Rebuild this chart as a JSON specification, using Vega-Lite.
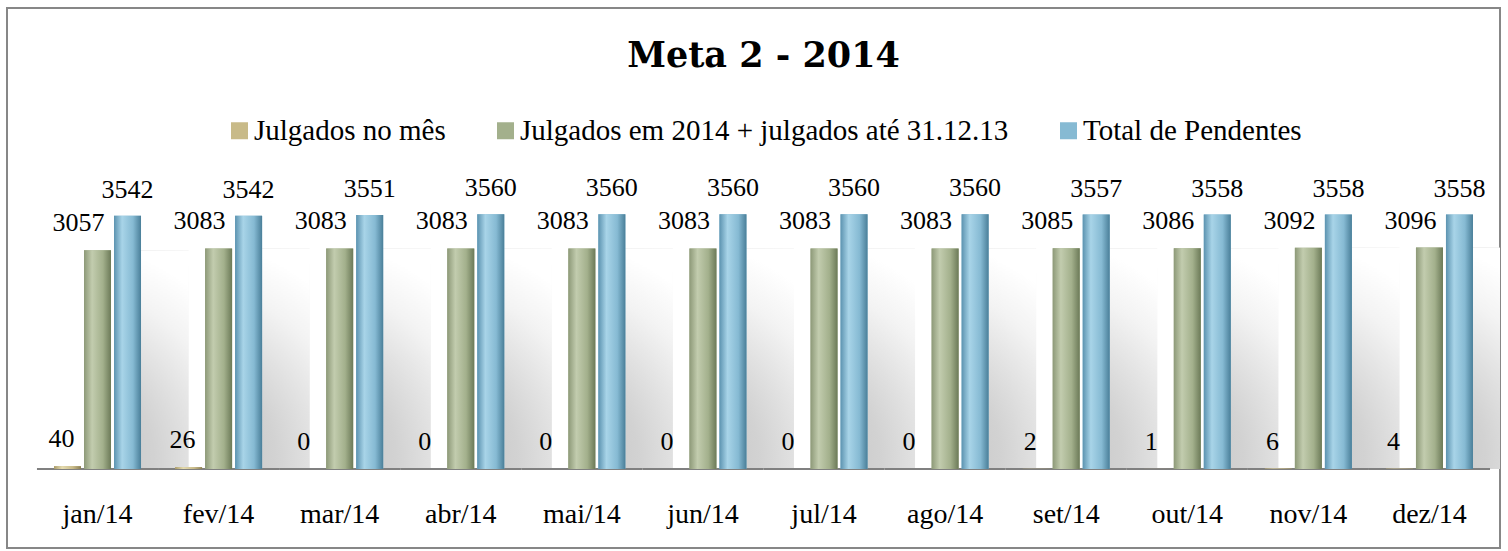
{
  "$schema": "https://vega.github.io/schema/vega-lite/v6.json",
  "width": 1493,
  "height": 540,
  "autosize": {"type": "none"},
  "padding": {"left": 7, "top": 8, "right": 8, "bottom": 3},
  "background": "white",
  "config": {"view": {"stroke": "#878787", "strokeWidth": 2}, "font": "Liberation Serif"},
  "title": {"text": "Meta 2 - 2014", "font": "DejaVu Serif", "fontSize": 35, "fontWeight": "bold", "color": "black", "anchor": "middle", "frame": "group", "baseline": "alphabetic", "offset": -94, "dx": 10},
  "data": {"values": [
    {"mes": "jan/14", "serie": "Julgados no mês", "valor": 40},
    {"mes": "fev/14", "serie": "Julgados no mês", "valor": 26},
    {"mes": "mar/14", "serie": "Julgados no mês", "valor": 0},
    {"mes": "abr/14", "serie": "Julgados no mês", "valor": 0},
    {"mes": "mai/14", "serie": "Julgados no mês", "valor": 0},
    {"mes": "jun/14", "serie": "Julgados no mês", "valor": 0},
    {"mes": "jul/14", "serie": "Julgados no mês", "valor": 0},
    {"mes": "ago/14", "serie": "Julgados no mês", "valor": 0},
    {"mes": "set/14", "serie": "Julgados no mês", "valor": 2},
    {"mes": "out/14", "serie": "Julgados no mês", "valor": 1},
    {"mes": "nov/14", "serie": "Julgados no mês", "valor": 6},
    {"mes": "dez/14", "serie": "Julgados no mês", "valor": 4},
    {"mes": "jan/14", "serie": "Julgados em 2014 + julgados até 31.12.13", "valor": 3057},
    {"mes": "fev/14", "serie": "Julgados em 2014 + julgados até 31.12.13", "valor": 3083},
    {"mes": "mar/14", "serie": "Julgados em 2014 + julgados até 31.12.13", "valor": 3083},
    {"mes": "abr/14", "serie": "Julgados em 2014 + julgados até 31.12.13", "valor": 3083},
    {"mes": "mai/14", "serie": "Julgados em 2014 + julgados até 31.12.13", "valor": 3083},
    {"mes": "jun/14", "serie": "Julgados em 2014 + julgados até 31.12.13", "valor": 3083},
    {"mes": "jul/14", "serie": "Julgados em 2014 + julgados até 31.12.13", "valor": 3083},
    {"mes": "ago/14", "serie": "Julgados em 2014 + julgados até 31.12.13", "valor": 3083},
    {"mes": "set/14", "serie": "Julgados em 2014 + julgados até 31.12.13", "valor": 3085},
    {"mes": "out/14", "serie": "Julgados em 2014 + julgados até 31.12.13", "valor": 3086},
    {"mes": "nov/14", "serie": "Julgados em 2014 + julgados até 31.12.13", "valor": 3092},
    {"mes": "dez/14", "serie": "Julgados em 2014 + julgados até 31.12.13", "valor": 3096},
    {"mes": "jan/14", "serie": "Total de Pendentes", "valor": 3542},
    {"mes": "fev/14", "serie": "Total de Pendentes", "valor": 3542},
    {"mes": "mar/14", "serie": "Total de Pendentes", "valor": 3551},
    {"mes": "abr/14", "serie": "Total de Pendentes", "valor": 3560},
    {"mes": "mai/14", "serie": "Total de Pendentes", "valor": 3560},
    {"mes": "jun/14", "serie": "Total de Pendentes", "valor": 3560},
    {"mes": "jul/14", "serie": "Total de Pendentes", "valor": 3560},
    {"mes": "ago/14", "serie": "Total de Pendentes", "valor": 3560},
    {"mes": "set/14", "serie": "Total de Pendentes", "valor": 3557},
    {"mes": "out/14", "serie": "Total de Pendentes", "valor": 3558},
    {"mes": "nov/14", "serie": "Total de Pendentes", "valor": 3558},
    {"mes": "dez/14", "serie": "Total de Pendentes", "valor": 3558}
  ]},
  "encoding": {
    "x": {
      "field": "mes", "type": "nominal",
      "sort": ["jan/14", "fev/14", "mar/14", "abr/14", "mai/14", "jun/14", "jul/14", "ago/14", "set/14", "out/14", "nov/14", "dez/14"],
      "scale": {"paddingInner": 0, "paddingOuter": 0.165, "align": 0.75},
      "axis": {"title": null, "domain": false, "ticks": false, "grid": false, "labelAngle": 0, "labelFont": "Liberation Serif", "labelFontSize": 28, "labelColor": "black", "labelPadding": -26, "labelBaseline": "alphabetic"}
    },
    "y": {"field": "valor", "type": "quantitative", "scale": {"domain": [-1104, 6445], "nice": false, "zero": false}, "axis": null}
  },
  "layer": [
    {
      "transform": [{"filter": "datum.serie === 'Julgados em 2014 + julgados até 31.12.13'"}],
      "mark": {"type": "bar", "width": 48, "xOffset": 67, "clip": true,
        "fill": {"gradient": "radial", "x1": 0, "y1": 0.95, "r1": 0, "x2": 0, "y2": 0.95, "r2": 1,
          "stops": [{"offset": 0, "color": "#bcbcbc"}, {"offset": 0.45, "color": "#d2d2d2"}, {"offset": 0.8, "color": "#f3f3f3"}, {"offset": 1, "color": "#ffffff"}]}},
      "encoding": {}
    },
    {
      "transform": [{"filter": "datum.serie === 'Total de Pendentes'"}],
      "mark": {"type": "rect", "stroke": "#808080", "strokeWidth": 2, "fillOpacity": 0},
      "encoding": {"y": {"datum": 0}, "y2": {"datum": 0}}
    },
    {
      "mark": {"type": "bar"},
      "encoding": {
        "xOffset": {"field": "serie", "type": "nominal", "scale": {"domain": ["Julgados no mês", "Julgados em 2014 + julgados até 31.12.13", "Total de Pendentes"], "paddingInner": 0.1, "paddingOuter": 0.568}},
        "color": {"field": "serie", "type": "nominal",
          "scale": {"domain": ["Julgados no mês", "Julgados em 2014 + julgados até 31.12.13", "Total de Pendentes"],
            "range": ["#c8ba88", "#a3b08c", "#86bad3"]},
          "legend": {"title": null, "orient": "none", "legendX": 218, "legendY": 108, "direction": "horizontal", "columns": 3, "symbolType": "square", "symbolSize": 289, "symbolStrokeWidth": 0, "labelFont": "Liberation Serif", "labelFontSize": 29, "labelColor": "black", "columnPadding": 45, "labelOffset": 0, "labelLimit": 0}
        }
      }
    },
    {
      "transform": [{"filter": "datum.serie === 'Julgados no mês'"}],
      "mark": {"type": "bar", "fill": {"gradient": "linear", "x1": 0, "y1": 0, "x2": 1, "y2": 0, "stops": [{"offset": 0, "color": "#a89a68"}, {"offset": 0.3, "color": "#e6dcb0"}, {"offset": 0.7, "color": "#c8ba88"}, {"offset": 1, "color": "#8a7e52"}]}},
      "encoding": {
        "xOffset": {"field": "serie", "type": "nominal", "scale": {"domain": ["Julgados no mês", "Julgados em 2014 + julgados até 31.12.13", "Total de Pendentes"]}}
      }
    },
    {
      "transform": [{"filter": "datum.serie === 'Julgados em 2014 + julgados até 31.12.13'"}],
      "mark": {"type": "bar", "fill": {"gradient": "linear", "x1": 0, "y1": 0, "x2": 1, "y2": 0, "stops": [{"offset": 0, "color": "#8d9978"}, {"offset": 0.3, "color": "#c2ccae"}, {"offset": 0.7, "color": "#a3b08c"}, {"offset": 1, "color": "#6c7a58"}]}},
      "encoding": {
        "xOffset": {"field": "serie", "type": "nominal", "scale": {"domain": ["Julgados no mês", "Julgados em 2014 + julgados até 31.12.13", "Total de Pendentes"]}}
      }
    },
    {
      "transform": [{"filter": "datum.serie === 'Total de Pendentes'"}],
      "mark": {"type": "bar", "fill": {"gradient": "linear", "x1": 0, "y1": 0, "x2": 1, "y2": 0, "stops": [{"offset": 0, "color": "#5c93b0"}, {"offset": 0.3, "color": "#a8d4e8"}, {"offset": 0.7, "color": "#86bad3"}, {"offset": 1, "color": "#4a7f99"}]}},
      "encoding": {
        "xOffset": {"field": "serie", "type": "nominal", "scale": {"domain": ["Julgados no mês", "Julgados em 2014 + julgados até 31.12.13", "Total de Pendentes"]}}
      }
    },
    {
      "transform": [{"filter": "datum.serie === 'Julgados no mês'"}],
      "mark": {"type": "text", "font": "Liberation Serif", "fontSize": 26, "baseline": "alphabetic", "dy": -19, "dx": -6, "color": "black"},
      "encoding": {
        "xOffset": {"field": "serie", "type": "nominal", "scale": {"domain": ["Julgados no mês", "Julgados em 2014 + julgados até 31.12.13", "Total de Pendentes"]}},
        "text": {"field": "valor", "type": "quantitative", "format": "d"}
      }
    },
    {
      "transform": [{"filter": "datum.serie === 'Julgados em 2014 + julgados até 31.12.13'"}],
      "mark": {"type": "text", "font": "Liberation Serif", "fontSize": 26, "baseline": "alphabetic", "dy": -19, "dx": -19, "color": "black"},
      "encoding": {
        "xOffset": {"field": "serie", "type": "nominal", "scale": {"domain": ["Julgados no mês", "Julgados em 2014 + julgados até 31.12.13", "Total de Pendentes"]}},
        "text": {"field": "valor", "type": "quantitative", "format": "d"}
      }
    },
    {
      "transform": [{"filter": "datum.serie === 'Total de Pendentes'"}],
      "mark": {"type": "text", "font": "Liberation Serif", "fontSize": 26, "baseline": "alphabetic", "dy": -18, "dx": 0, "color": "black"},
      "encoding": {
        "xOffset": {"field": "serie", "type": "nominal", "scale": {"domain": ["Julgados no mês", "Julgados em 2014 + julgados até 31.12.13", "Total de Pendentes"]}},
        "text": {"field": "valor", "type": "quantitative", "format": "d"}
      }
    }
  ]
}
